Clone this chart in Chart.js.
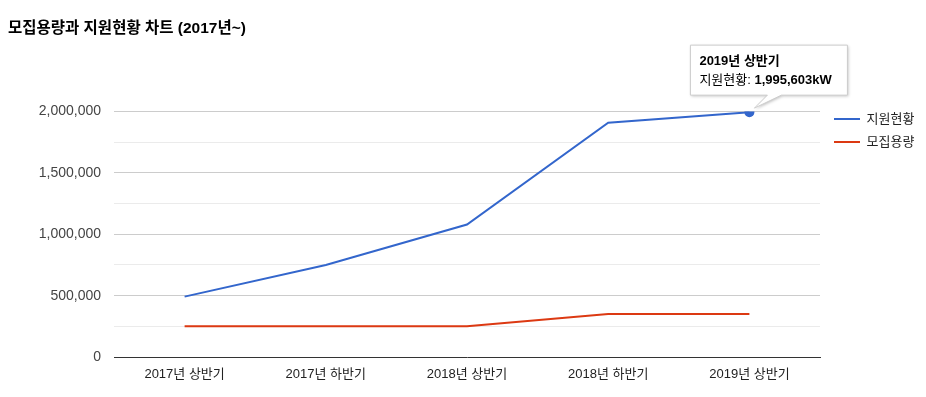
<!DOCTYPE html>
<html lang="ko">
<head>
<meta charset="utf-8">
<title>모집용량과 지원현황 차트</title>
<script src="https://cdn.jsdelivr.net/npm/chart.js@4"></script>
<style>
  html, body { margin: 0; padding: 0; background: #fff; }
  #wrap { width: 926px; height: 397px; }
</style>
</head>
<body>
<div id="wrap"><canvas id="supplyChart" width="926" height="397"></canvas></div>
<script>
const categories = ['2017년 상반기', '2017년 하반기', '2018년 상반기', '2018년 하반기', '2019년 상반기'];
const supportValues = [492000, 750000, 1080000, 1910000, 1995603];
const capacityValues = [250000, 250000, 250000, 350000, 350000];
const yTicks = [0, 500000, 1000000, 1500000, 2000000];
const highlightIndex = 4;

Chart.defaults.font.family = "Arial, 'Liberation Sans', 'Noto Sans CJK KR', sans-serif";
Chart.defaults.font.size = 13;

// put the legend where google charts draws it
const legendPlace = {
  id: 'legendPlace',
  afterLayout(chart) {
    const lg = chart.legend;
    const h = lg.bottom - lg.top;
    lg.left = chart.chartArea.right + 4;
    lg.top = chart.chartArea.top - 9;
    lg.right = chart.width;
    lg.bottom = lg.top + h;
    lg.width = lg.right - lg.left;
  }
};

// the fixed hover card over the last blue point
const staticTip = {
  id: 'staticTip',
  afterDraw(chart) {
    const p = chart.getDatasetMeta(0).data[highlightIndex];
    if (!p) return;
    const ctx = chart.ctx;
    const left = p.x - 59, top = p.y - 67, w = 157, h = 50;
    ctx.save();
    ctx.shadowColor = 'rgba(0,0,0,0.25)';
    ctx.shadowBlur = 3;
    ctx.shadowOffsetX = 1;
    ctx.shadowOffsetY = 1;
    ctx.fillStyle = '#fff';
    ctx.beginPath();
    ctx.moveTo(left, top);
    ctx.lineTo(left + w, top);
    ctx.lineTo(left + w, top + h);
    ctx.lineTo(p.x + 32, top + h);
    ctx.lineTo(p.x + 5, p.y - 4);
    ctx.lineTo(p.x + 18, top + h);
    ctx.lineTo(left, top + h);
    ctx.closePath();
    ctx.fill();
    ctx.shadowColor = 'transparent';
    ctx.strokeStyle = '#cccccc';
    ctx.lineWidth = 1;
    ctx.stroke();

    ctx.fillStyle = '#000';
    ctx.textBaseline = 'alphabetic';
    ctx.textAlign = 'left';
    ctx.font = "bold 13px Arial, 'Liberation Sans', 'Noto Sans CJK KR', sans-serif";
    ctx.fillText(categories[highlightIndex], left + 9, top + 20);
    ctx.font = "13px Arial, 'Liberation Sans', 'Noto Sans CJK KR', sans-serif";
    const lab = chart.data.datasets[0].label + ': ';
    ctx.fillText(lab, left + 9, top + 39);
    const lw = ctx.measureText(lab).width;
    ctx.font = "bold 13px Arial, 'Liberation Sans', 'Noto Sans CJK KR', sans-serif";
    ctx.fillText(supportValues[highlightIndex].toLocaleString('en-US') + 'kW', left + 9 + lw, top + 39);
    ctx.restore();
  }
};

const ctx = document.getElementById('supplyChart').getContext('2d');
new Chart(ctx, {
  type: 'line',
  data: {
    labels: categories,
    datasets: [
      {
        label: '지원현황', data: supportValues,
        borderColor: '#3366cc', backgroundColor: '#3366cc', borderWidth: 2,
        pointRadius: c => c.dataIndex === highlightIndex ? 5 : 0,
        pointBorderWidth: 0, tension: 0
      },
      {
        label: '모집용량', data: capacityValues,
        borderColor: '#dc3912', backgroundColor: '#dc3912', borderWidth: 2,
        pointRadius: 0, tension: 0
      }
    ]
  },
  options: {
    responsive: false,
    animation: false,
    events: [],
    layout: { padding: { left: 8, right: 26, top: 0, bottom: 0 } },
    plugins: {
      title: {
        display: true, text: '모집용량과 지원현황 차트 (2017년~)', align: 'start',
        color: '#000', font: { size: 15.5, weight: 'bold' },
        padding: { top: 19, bottom: 74 }
      },
      legend: {
        position: 'right', align: 'start', fullSize: false, maxWidth: 80,
        labels: {
          boxWidth: 26, boxHeight: 2, padding: 10, color: '#222',
          generateLabels: chart => chart.data.datasets.map((d, i) => ({
            text: d.label, fillStyle: d.borderColor, strokeStyle: d.borderColor,
            lineWidth: 0, hidden: false, datasetIndex: i, fontColor: '#222'
          }))
        }
      },
      tooltip: { enabled: false }
    },
    scales: {
      x: {
        offset: true,
        grid: { display: false, drawTicks: false },
        border: { display: true, color: '#333', width: 1 },
        ticks: { color: '#222', padding: 10, maxRotation: 0 },
        afterFit: s => { s.height = 40; }
      },
      y: {
        min: 0, max: 2000000,
        afterBuildTicks: s => {
          const t = [];
          for (let v = 0; v <= 2000000; v += 250000) t.push({ value: v });
          s.ticks = t;
        },
        grid: {
          drawTicks: false,
          color: c => c.tick.value === 0 ? 'rgba(0,0,0,0)' : (yTicks.includes(c.tick.value) ? '#cccccc' : '#ebebeb')
        },
        border: { display: false },
        ticks: {
          color: '#444', padding: 13, font: { size: 14 },
          callback: v => yTicks.includes(v) ? v.toLocaleString('en-US') : ''
        },
        afterFit: s => { s.width = 106; }
      }
    }
  },
  plugins: [legendPlace, staticTip]
});
</script>
</body>
</html>
